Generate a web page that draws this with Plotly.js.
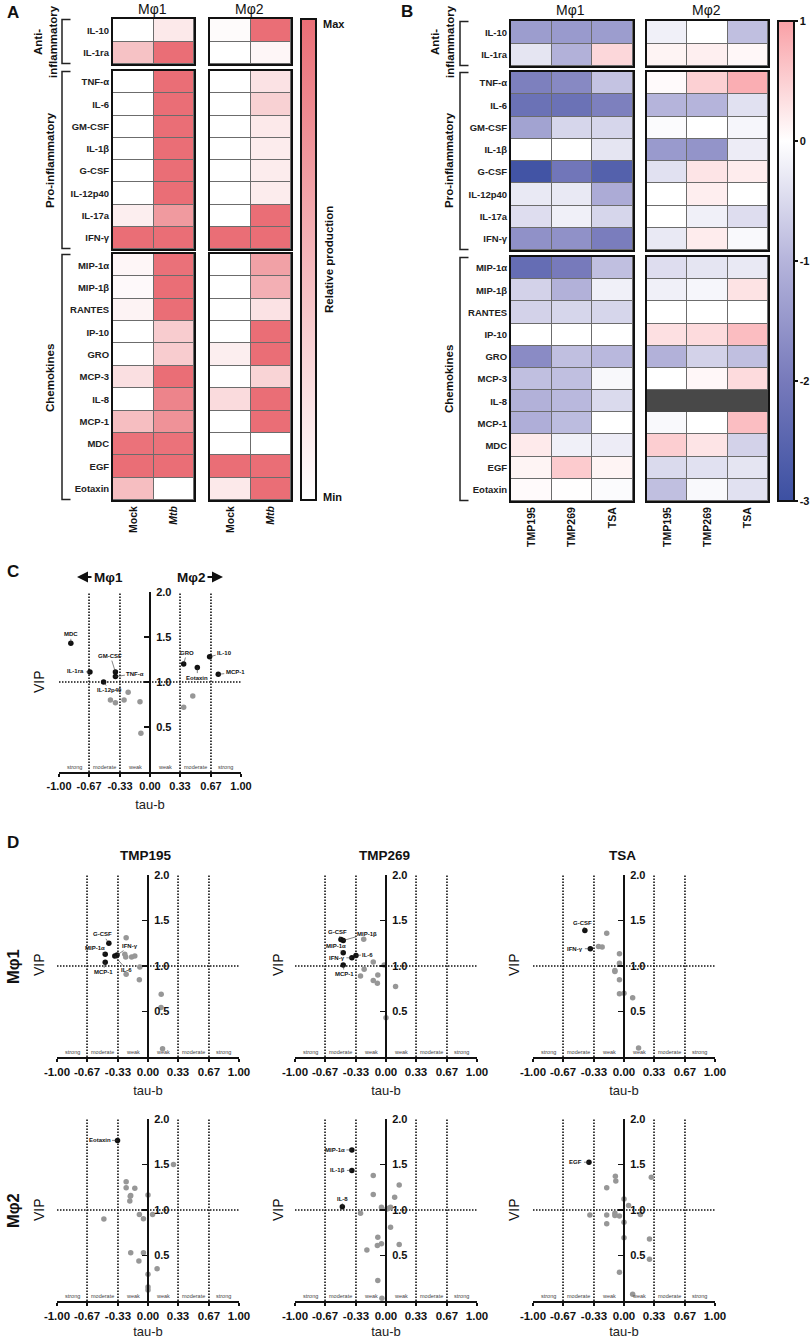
<!DOCTYPE html>
<html>
<head>
<meta charset="utf-8">
<script src="https://cdn.plot.ly/plotly-3.0.1.min.js"></script>
<style>html,body{margin:0;padding:0;background:#fff}</style>
</head>
<body>
<div id="chart"></div>
<script>
"use strict";

// cytokine rows
const rowsAnti = ["IL-10", "IL-1ra"];
const rowsPro = ["TNF-α", "IL-6", "GM-CSF", "IL-1β", "G-CSF", "IL-12p40", "IL-17a", "IFN-γ"];
const rowsChem = ["MIP-1α", "MIP-1β", "RANTES", "IP-10", "GRO", "MCP-3", "IL-8", "MCP-1", "MDC", "EGF", "Eotaxin"];

const columnsA = ["Mock", "<i>Mtb</i>"];
const columnsB = ["TMP195", "TMP269", "TSA"];

// panel A, relative production, same row order as above
const aM1Mock = [0, .42, 0, 0, 0, 0, 0, 0, .12, 1, .06, .04, .08, 0, 0, .22, 0, .45, .97, 1, .45];
const aM1Mtb = [.15, 1, 1, 1, 1, 1, 1, 1, .7, 1, .98, 1, 1, .35, .35, 1, .85, .75, .97, 1, 0];
const aM2Mock = [.03, 0, 0, 0, 0, 0, 0, 0, 0, 1, 0, 0, 0, 0, .12, 0, .25, 0, 0, 1, .15];
const aM2Mtb = [1, .06, .2, .32, .15, .13, .13, .13, 1, 1, .65, .55, .2, 1, 1, .3, 1, 1, 0, 1, 1];

// panel B, log fold change
const bM1Tmp195 = [-1.4, -.35, -1.9, -2.2, -1.3, 0, -2.9, -.3, -.45, -1.6, -2.3, -.6, -.6, 0, -1.7, -.85, -1.05, -1.1, .22, .12, .05];
const bM1Tmp269 = [-1.45, -1.05, -1.75, -2.2, -.55, 0, -2.1, -.3, -.2, -1.6, -2, -1.05, -.55, 0, -.85, -.85, -.95, -.9, -.2, .55, .01];
const bM1Tsa = [-1.4, .42, -.8, -1.9, -.55, -.35, -2.6, -1.15, -.55, -1.95, -.85, -.2, -.55, 0, -.95, -.1, -.5, 0, -.25, .12, -.06];
const bM2Tmp195 = [-.2, .12, .05, -1, -.05, -1.45, -.4, 0, 0, -.3, -.45, -.2, 0, .33, -1.05, 0, null, -.08, .52, -.5, -.85];
const bM2Tmp269 = [0, .17, .5, -1, 0, -1.55, .28, .18, -.2, .2, -.35, -.12, 0, .38, -.6, .08, null, 0, .28, -.4, -.08];
const bM2Tsa = [-.85, .08, .85, -.4, -.12, -.25, .2, 0, -.45, -.08, -.3, .3, 0, .7, -.85, .38, null, .68, -.6, -.35, -.4];

const barTicksB = [1, 0, -1, -2, -3];

// VIP against tau-b
const tauTicks = [-1, -.67, -.33, 0, .33, .67, 1];
const tauTickText = ["-1.00", "-0.67", "-0.33", "0.00", "0.33", "0.67", "1.00"];
const vipTicks = [.5, 1, 1.5, 2];
const vipTickText = ["0.5", "1.0", "1.5", "2.0"];
const strengthTau = [-.835, -.5, -.165, .165, .5, .835];
const strengthText = ["strong", "moderate", "weak", "weak", "moderate", "strong"];
const cutTau = [-.67, -.33, .33, .67];

const cNames = ["MDC", "IL-1ra", "GM-CSF", "TNF-α", "IL-12p40", "GRO", "IL-10", "Eotaxin", "MCP-1"];
const cTau = [-.87, -.66, -.38, -.38, -.51, .37, .655, .52, .75];
const cVip = [1.43, 1.11, 1.11, 1.06, 1, 1.2, 1.28, 1.16, 1.085];
const cGrayTau = [-.435, -.38, -.285, -.24, -.11, -.1, .37, .47];
const cGrayVip = [.8, .77, .8, .885, .78, .43, .72, .845];

const d195M1Names = ["G-CSF", "MIP-1α", "MCP-1", "IFN-γ", "IL-6"];
const d195M1Tau = [-.43, -.47, -.47, -.34, -.365];
const d195M1Vip = [1.25, 1.13, 1.04, 1.12, 1.11];
const d195M1GrayTau = [-.24, -.255, -.245, -.18, -.145, -.09, -.095, -.24, .145, .143, .16];
const d195M1GrayVip = [1.31, 1.13, 1.1, 1.1, 1.11, .99, .85, .91, .69, .545, .09];

const d269M1Names = ["G-CSF", "MIP-1β", "MIP-1α", "IFN-γ", "IL-6", "MCP-1"];
const d269M1Tau = [-.495, -.47, -.47, -.375, -.33, -.47];
const d269M1Vip = [1.29, 1.28, 1.145, 1.09, 1.115, 1.01];
const d269M1GrayTau = [-.245, -.14, -.24, -.28, -.09, -.14, -.095, .105, 0, -.02];
const d269M1GrayVip = [1.295, 1.045, .965, .89, .9, .84, .81, .775, .43, 1.01];

const dTsaM1Names = ["G-CSF", "IFN-γ"];
const dTsaM1Tau = [-.43, -.37];
const dTsaM1Vip = [1.39, 1.19];
const dTsaM1GrayTau = [-.19, -.28, -.24, -.05, -.05, -.1, -.1, -.05, -.05, 0, .095, .16];
const dTsaM1GrayVip = [1.36, 1.215, 1.21, 1.135, 1.03, .95, .94, .85, .695, .7, .65, .1];

const d195M2Names = ["Eotaxin"];
const d195M2Tau = [-.335];
const d195M2Vip = [1.765];
const d195M2GrayTau = [.28, -.24, -.24, -.145, -.19, -.195, -.2, 0, -.485, -.095, -.05, .05, -.19, -.05, -.1, .1, 0, 0, 0];
const d195M2GrayVip = [1.5, 1.31, 1.245, 1.24, 1.16, 1.15, 1.1, 1.165, .9, .95, .905, .95, .53, .53, .44, .355, .295, .155, .12];

const d269M2Names = ["MIP-1α", "IL-1β", "IL-8"];
const d269M2Tau = [-.375, -.375, -.48];
const d269M2Vip = [1.66, 1.435, 1.035];
const d269M2GrayTau = [-.14, .145, -.14, .095, -.05, .05, .01, .03, -.28, .05, -.09, -.05, -.095, .145, -.21, -.09, -.045];
const d269M2GrayVip = [1.38, 1.275, 1.17, 1.14, 1.03, 1.03, 1.01, 1.02, .965, .81, .7, .63, .61, .62, .56, .225, .03];

const dTsaM2Names = ["EGF"];
const dTsaM2Tau = [-.385];
const dTsaM2Vip = [1.525];
const dTsaM2GrayTau = [-.095, -.09, .3, -.19, 0, .05, -.375, -.19, -.1, -.1, -.05, .18, -.19, 0, 0, .28, .28, -.05, .095];
const dTsaM2GrayVip = [1.37, 1.32, 1.36, 1.245, 1.12, 1.05, .945, .945, .965, .94, .935, .95, .85, .865, .695, .68, .46, .315, .075];

const W = 810;
const H = 1339;
const FONT = "Liberation Sans, Arial, sans-serif";
const BLACK = "#111";

const scaleA = [[0, "#ffffff"], [1, "#ea6e76"]];
const scaleB = [[0, "#3c50a2"], [.25, "#777abb"], [.5, "#b5b4db"], [.75, "#ffffff"], [1, "#f9a0a6"]];

var traces = [];
var annotations = [];
var shapes = [];
var layout = {
    width: W, height: H,
    margin: {l: 0, r: 0, t: 0, b: 0, autoexpand: false},
    paper_bgcolor: "#fff", plot_bgcolor: "#fff",
    showlegend: false,
    font: {family: FONT, color: BLACK},
    annotations: annotations, shapes: shapes
};
var axisCount = 0;

function px(x) { return x / W; }
function py(y) { return 1 - y / H; }

function paperText(text, x, y, size, bold, angle, anchor) {
    annotations.push({
        text: text, xref: "paper", yref: "paper", x: px(x), y: py(y),
        xanchor: anchor || "center", yanchor: "middle", showarrow: false,
        textangle: angle || 0,
        font: {family: FONT, size: size, color: BLACK, weight: bold ? "bold" : "normal"}
    });
}

function addHeatmap(left, right, top, bottom, rows, columns, columnValues, from, opts) {
    axisCount++;
    const id = axisCount === 1 ? "" : String(axisCount);
    const z = rows.map(function (r, i) {
        return columnValues.map(function (col) { return col[from + i]; });
    });
    var trace = {
        type: "heatmap", x: columns, y: rows, z: z,
        xaxis: "x" + id, yaxis: "y" + id,
        xgap: 1, ygap: 1,
        zmin: opts.zmin, zmax: opts.zmax, colorscale: opts.colorscale,
        showscale: !!opts.colorbar, hoverongaps: false
    };
    if (opts.colorbar) trace.colorbar = opts.colorbar;
    traces.push(trace);
    layout["xaxis" + id] = {
        domain: [px(left), px(right)], anchor: "y" + id, type: "category",
        showline: true, mirror: true, linewidth: 2, linecolor: BLACK,
        ticks: "", showgrid: false, zeroline: false, tickangle: -90,
        showticklabels: !!opts.xLabels,
        tickfont: {family: FONT, size: 10.5, color: BLACK, weight: "bold"}
    };
    layout["yaxis" + id] = {
        domain: [py(bottom), py(top)], anchor: "x" + id, type: "category",
        autorange: "reversed",
        showline: true, mirror: true, linewidth: 2, linecolor: BLACK,
        ticks: "", showgrid: false, zeroline: false,
        showticklabels: !!opts.yLabels,
        tickfont: {family: FONT, size: 9.5, color: "#222", weight: "bold"}
    };
    // the cell gaps show this through
    shapes.push({
        type: "rect", layer: "below", xref: "x" + id + " domain", yref: "y" + id + " domain",
        x0: 0, x1: 1, y0: 0, y1: 1, fillcolor: "#6c6c6c", line: {width: 0}
    });
    // rows with no data are dark grey
    z.forEach(function (row, i) {
        if (row.every(function (v) { return v === null; })) {
            shapes.push({
                type: "rect", layer: "below", xref: "x" + id + " domain", yref: "y" + id,
                x0: 0, x1: 1, y0: i - .5, y1: i + .5, fillcolor: "#484848", line: {width: 0}
            });
        }
    });
}

function addBracket(x, tipX, top, bottom) {
    shapes.push({
        type: "path", xref: "paper", yref: "paper",
        path: "M" + px(tipX) + "," + py(top) + " L" + px(x) + "," + py(top) +
            " L" + px(x) + "," + py(bottom) + " L" + px(tipX) + "," + py(bottom),
        line: {color: "#222", width: 1.5}
    });
}

function addHeatmapPanel(panel) {
    const groups = [[rowsAnti, 0], [rowsPro, 2], [rowsChem, 10]];
    groups.forEach(function (group, g) {
        const span = panel.spans[g];
        panel.blocks.forEach(function (block, b) {
            addHeatmap(block.left, block.right, span[0], span[1], group[0], panel.columns, block.values, group[1], {
                zmin: panel.zmin, zmax: panel.zmax, colorscale: panel.colorscale,
                colorbar: g === 0 && b === 0 ? panel.colorbar : null,
                xLabels: g === 2, yLabels: b === 0
            });
        });
        addBracket(panel.bracketX, panel.bracketX + 8.5, span[0] + .5, span[1] - .5);
    });
}

addHeatmapPanel({
    columns: columnsA, zmin: 0, zmax: 1, colorscale: scaleA, bracketX: 62,
    spans: [[19, 64], [71, 249], [254, 500]],
    blocks: [
        {left: 113, right: 194, values: [aM1Mock, aM1Mtb]},
        {left: 210, right: 291, values: [aM2Mock, aM2Mtb]}
    ],
    colorbar: {
        x: px(301), xanchor: "left", xpad: 0, y: py(500), yanchor: "bottom", ypad: 0,
        thickness: 15, thicknessmode: "pixels", len: 481, lenmode: "pixels",
        outlinewidth: 2, outlinecolor: BLACK, borderwidth: 0, ticks: "", showticklabels: false
    }
});

addHeatmapPanel({
    columns: columnsB, zmin: -3, zmax: 1, colorscale: scaleB, bracketX: 460,
    spans: [[21, 66], [72, 250], [257, 501]],
    blocks: [
        {left: 511, right: 633, values: [bM1Tmp195, bM1Tmp269, bM1Tsa]},
        {left: 647, right: 768, values: [bM2Tmp195, bM2Tmp269, bM2Tsa]}
    ],
    colorbar: {
        x: px(778), xanchor: "left", xpad: 0, y: py(501), yanchor: "bottom", ypad: 0,
        thickness: 16, thicknessmode: "pixels", len: 480, lenmode: "pixels",
        outlinewidth: 2, outlinecolor: BLACK, borderwidth: 0,
        tickmode: "array", tickvals: barTicksB, ticktext: barTicksB.map(String),
        ticks: "outside", ticklen: 3, tickwidth: 1.5, tickcolor: BLACK,
        tickfont: {family: FONT, size: 11, color: BLACK, weight: "bold"}
    }
});

function addScatter(left, top, panel) {
    axisCount++;
    const id = String(axisCount);
    const width = 182;
    const height = panel.height || 182;
    layout["xaxis" + id] = {
        domain: [px(left), px(left + width)], anchor: "y" + id, range: [-1, 1],
        tickmode: "array", tickvals: tauTicks, ticktext: tauTickText,
        ticks: "outside", ticklen: 3, tickwidth: 1.5, tickcolor: BLACK,
        showline: true, linewidth: 2, linecolor: BLACK, showgrid: false, zeroline: false,
        tickfont: {family: FONT, size: panel.height ? 11 : 11.5, color: BLACK, weight: "bold"},
        title: {text: "tau-b", standoff: 9, font: {family: FONT, size: 13, color: "#222"}}
    };
    layout["yaxis" + id] = {
        domain: [py(top + height), py(top)], anchor: "free", overlaying: false,
        position: px(left + width / 2), side: "right", range: [0, 2],
        tickmode: "array", tickvals: vipTicks, ticktext: vipTickText,
        ticks: "inside", ticklen: 5, tickwidth: 1.5, tickcolor: BLACK,
        ticklabelstandoff: 3,
        showline: true, linewidth: 2, linecolor: BLACK, showgrid: false, zeroline: false,
        tickfont: {family: FONT, size: 11, color: BLACK, weight: "bold"}
    };
    cutTau.forEach(function (t) {
        shapes.push({
            type: "line", layer: "below", xref: "x" + id, yref: "y" + id, x0: t, x1: t, y0: 0, y1: 2,
            line: {color: BLACK, width: 1.6, dash: "1.5px,1.5px"}
        });
    });
    shapes.push({
        type: "line", layer: "below", xref: "x" + id, yref: "y" + id, x0: -1, x1: 1, y0: 1, y1: 1,
        line: {color: BLACK, width: 1.6, dash: "1.5px,1.5px"}
    });
    strengthTau.forEach(function (t, i) {
        annotations.push({
            text: strengthText[i], xref: "x" + id, yref: "y" + id, x: t, y: .055,
            showarrow: false, font: {family: FONT, size: 5.5, color: "#444"}
        });
    });
    traces.push({
        type: "scatter", mode: "markers", x: panel.grayTau, y: panel.grayVip,
        xaxis: "x" + id, yaxis: "y" + id, cliponaxis: false,
        marker: {size: 5.5, color: "#979797"}
    });
    traces.push({
        type: "scatter", mode: "markers", x: panel.tau, y: panel.vip, text: panel.names,
        xaxis: "x" + id, yaxis: "y" + id, cliponaxis: false,
        marker: {size: 5.5, color: BLACK}
    });
    panel.names.forEach(function (name, i) {
        annotations.push({
            text: name, xref: "x" + id, yref: "y" + id, x: panel.tau[i], y: panel.vip[i],
            showarrow: true, arrowhead: 0, arrowwidth: .6, arrowcolor: "#333", standoff: 0,
            ax: panel.offsets[i][0], ay: panel.offsets[i][1],
            font: {family: FONT, size: 6, color: BLACK, weight: "bold"}
        });
    });
}

// label offsets from their dots, in pixels
addScatter(59, 592, {
    names: cNames, tau: cTau, vip: cVip, grayTau: cGrayTau, grayVip: cGrayVip, height: 180,
    offsets: [[0, -9], [-14, -1], [-5, -16], [20, -3], [6, 8], [3, -11], [15, -4], [0, 10], [17, -2]]
});
addScatter(57, 875, {
    names: d195M1Names, tau: d195M1Tau, vip: d195M1Vip, grayTau: d195M1GrayTau, grayVip: d195M1GrayVip,
    offsets: [[-6, -9], [-10, -6], [-2, 10], [13, -9], [12, 14]]
});
addScatter(295, 875, {
    names: d269M1Names, tau: d269M1Tau, vip: d269M1Vip, grayTau: d269M1GrayTau, grayVip: d269M1GrayVip,
    offsets: [[-3, -8], [24, -7], [-7, -7], [-15, 0], [12, -1], [1, 9]]
});
addScatter(533, 875, {
    names: dTsaM1Names, tau: dTsaM1Tau, vip: dTsaM1Vip, grayTau: dTsaM1GrayTau, grayVip: dTsaM1GrayVip,
    offsets: [[-2, -8], [-15, 0]]
});
addScatter(57, 1119, {
    names: d195M2Names, tau: d195M2Tau, vip: d195M2Vip, grayTau: d195M2GrayTau, grayVip: d195M2GrayVip,
    offsets: [[-18, 0]]
});
addScatter(295, 1119, {
    names: d269M2Names, tau: d269M2Tau, vip: d269M2Vip, grayTau: d269M2GrayTau, grayVip: d269M2GrayVip,
    offsets: [[-17, 0], [-14, 0], [0, -8]]
});
addScatter(533, 1119, {
    names: dTsaM2Names, tau: dTsaM2Tau, vip: dTsaM2Vip, grayTau: dTsaM2GrayTau, grayVip: dTsaM2GrayVip,
    offsets: [[-13, 0]]
});

// panel letters
paperText("A", 13, 13, 17, true);
paperText("B", 407, 12, 17, true);
paperText("C", 13, 571, 17, true);
paperText("D", 13, 842, 17, true);

// heatmap headings
paperText("Mφ1", 152, 9, 14, false);
paperText("Mφ2", 249, 9, 14, false);
paperText("Mφ1", 570, 10, 14, false);
paperText("Mφ2", 706, 10, 14, false);

paperText("Anti-<br>inflammatory", 45, 42, 11.5, true, -90);
paperText("Pro-inflammatory", 50, 160, 11.5, true, -90);
paperText("Chemokines", 50, 378, 11.5, true, -90);
paperText("Anti-<br>inflammatory", 442, 42, 11.5, true, -90);
paperText("Pro-inflammatory", 449, 160, 11.5, true, -90);
paperText("Chemokines", 449, 379, 11.5, true, -90);

paperText("Max", 321, 24, 11, true, 0, "left");
paperText("Min", 321, 497, 11, true, 0, "left");
paperText("Relative production", 329, 260, 11.5, true, -90);

// panel C heading with its arrows
paperText("Mφ1", 108, 577, 13.5, true);
paperText("Mφ2", 191, 577, 13.5, true);
[[77, 93], [223, 206]].forEach(function (a) {
    annotations.push({
        text: "", xref: "paper", yref: "paper", x: px(a[0]), y: py(577),
        axref: "pixel", ayref: "pixel", ax: a[1] - a[0], ay: 0,
        showarrow: true, arrowhead: 2, arrowsize: 1, arrowwidth: 2.2, arrowcolor: BLACK, standoff: 0
    });
});

// panel D headings
paperText("TMP195", 146, 855, 13.5, true);
paperText("TMP269", 384, 855, 13.5, true);
paperText("TSA", 622, 855, 13.5, true);
paperText("Mφ1", 13, 967, 16.5, true, -90);
paperText("Mφ2", 13, 1211, 16.5, true, -90);

[[39, 682], [39, 965], [278, 965], [514, 965], [39, 1210], [278, 1210], [514, 1210]].forEach(function (v) {
    paperText("VIP", v[0], v[1], 14, false, -90);
});

Plotly.newPlot("chart", traces, layout, {staticPlot: true, displayModeBar: false});
</script>
</body>
</html>
